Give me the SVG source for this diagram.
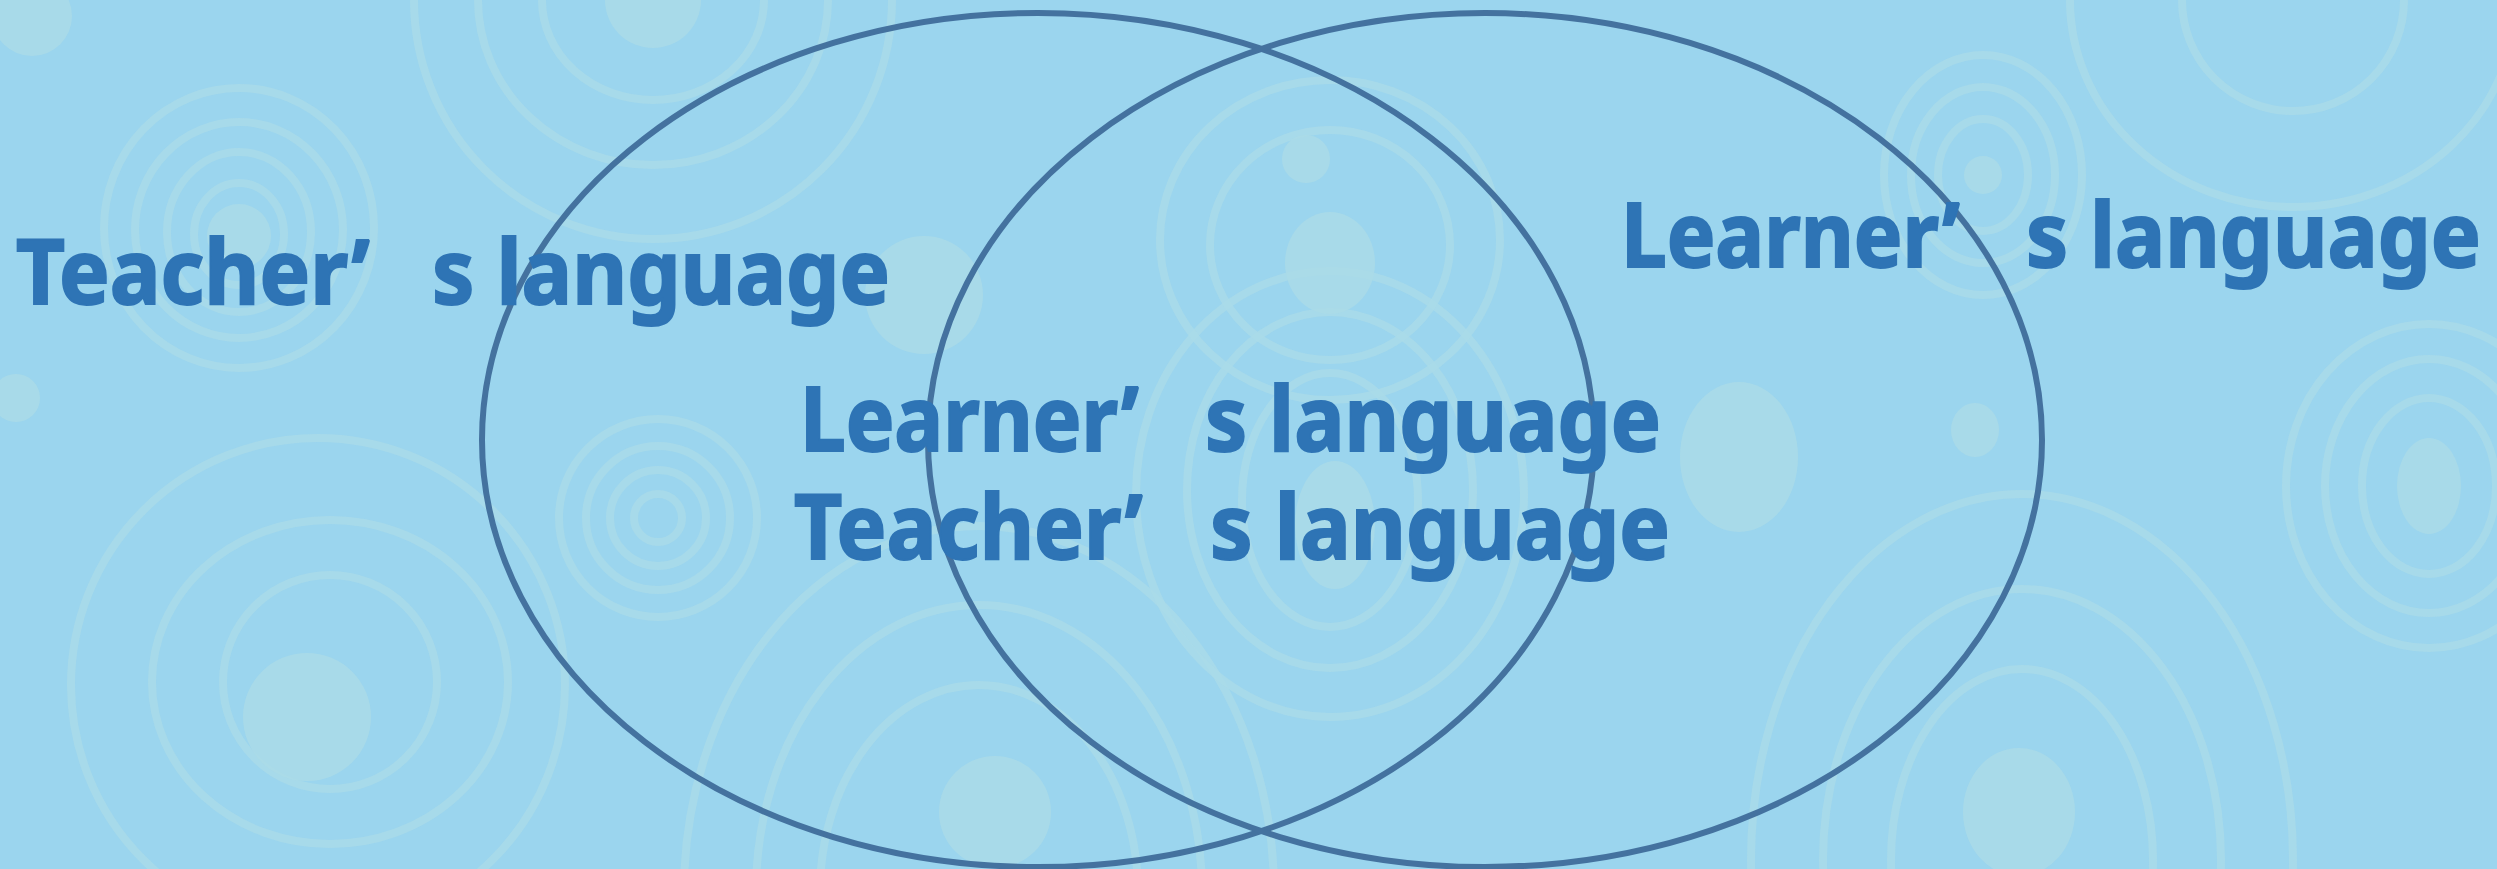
<svg xmlns="http://www.w3.org/2000/svg" width="2497" height="869" viewBox="0 0 2497 869">
  <style>
    .bg { fill: #9bd5ee; }
    .sw { fill: none; stroke: #aadbe8; stroke-width: 8; opacity: 0.8; }
    .sf { fill: #aadbe8; opacity: 0.85; }
    .ring { fill: none; stroke: #44729f; stroke-width: 6; }
    .lbl { font-family: "Noto Sans", "Open Sans", "Liberation Sans", sans-serif; font-weight: 700; font-size: 90px; fill: #2e74b5; stroke: #2e74b5; stroke-width: 2; }
  </style>
  <rect class="bg" x="0" y="0" width="2497" height="869"/>
  <g id="decor">
    <circle class="sf" cx="32" cy="16" r="40"/>
    <circle class="sf" cx="16" cy="398" r="24"/>
    <ellipse class="sw" cx="239" cy="228" rx="135" ry="140"/>
    <ellipse class="sw" cx="239" cy="230" rx="104" ry="108"/>
    <ellipse class="sw" cx="239" cy="232" rx="72" ry="80"/>
    <ellipse class="sw" cx="239" cy="234" rx="45" ry="51"/>
    <circle class="sf" cx="239" cy="236" r="32"/>
    <ellipse class="sw" cx="653" cy="0" rx="239" ry="239"/>
    <ellipse class="sw" cx="653" cy="0" rx="175" ry="165"/>
    <ellipse class="sw" cx="653" cy="0" rx="111" ry="100"/>
    <circle class="sf" cx="653" cy="0" r="48"/>
    <ellipse class="sw" cx="318" cy="685" rx="247" ry="247"/>
    <ellipse class="sw" cx="330" cy="682" rx="178" ry="162"/>
    <ellipse class="sw" cx="330" cy="682" rx="107" ry="107"/>
    <circle class="sf" cx="307" cy="717" r="64"/>
    <circle class="sw" cx="658" cy="518" r="99"/>
    <circle class="sw" cx="658" cy="518" r="72"/>
    <circle class="sw" cx="658" cy="518" r="48"/>
    <circle class="sw" cx="658" cy="518" r="24"/>
    <circle class="sf" cx="924" cy="295" r="59"/>
    <ellipse class="sw" cx="979" cy="892" rx="295" ry="366"/>
    <ellipse class="sw" cx="979" cy="892" rx="223" ry="287"/>
    <ellipse class="sw" cx="979" cy="892" rx="159" ry="207"/>
    <circle class="sf" cx="995" cy="812" r="56"/>
    <ellipse class="sw" cx="1330" cy="494" rx="194" ry="223"/>
    <ellipse class="sw" cx="1330" cy="490" rx="143" ry="178"/>
    <ellipse class="sw" cx="1330" cy="500" rx="88" ry="127"/>
    <ellipse class="sf" cx="1335" cy="525" rx="40" ry="64"/>
    <ellipse class="sw" cx="1330" cy="240" rx="170" ry="160"/>
    <ellipse class="sw" cx="1330" cy="245" rx="120" ry="115"/>
    <ellipse class="sf" cx="1330" cy="263" rx="45" ry="51"/>
    <circle class="sf" cx="1306" cy="159" r="24"/>
    <ellipse class="sf" cx="1739" cy="457" rx="59" ry="75"/>
    <ellipse class="sf" cx="1975" cy="430" rx="24" ry="27"/>
    <ellipse class="sw" cx="1983" cy="175" rx="99" ry="120"/>
    <ellipse class="sw" cx="1983" cy="175" rx="72" ry="88"/>
    <ellipse class="sw" cx="1983" cy="175" rx="45" ry="56"/>
    <circle class="sf" cx="1983" cy="175" r="19"/>
    <ellipse class="sw" cx="2429" cy="486" rx="143" ry="162"/>
    <ellipse class="sw" cx="2429" cy="486" rx="104" ry="127"/>
    <ellipse class="sw" cx="2429" cy="486" rx="67" ry="88"/>
    <ellipse class="sf" cx="2429" cy="486" rx="32" ry="48"/>
    <ellipse class="sw" cx="2022" cy="860" rx="271" ry="366"/>
    <ellipse class="sw" cx="2022" cy="860" rx="199" ry="271"/>
    <ellipse class="sw" cx="2022" cy="860" rx="131" ry="191"/>
    <ellipse class="sf" cx="2019" cy="812" rx="56" ry="64"/>
    <ellipse class="sw" cx="2293" cy="0" rx="223" ry="207"/>
    <ellipse class="sw" cx="2293" cy="0" rx="111" ry="111"/>
  </g>
  <g id="set-teacher">
    <ellipse class="ring" cx="1038" cy="440" rx="556" ry="427"/>
  </g>
  <g id="set-learner">
    <ellipse class="ring" cx="1485" cy="440" rx="557" ry="427"/>
  </g>
  <g id="label-teacher">
    <text class="lbl" y="304"><tspan x="16" textLength="354" lengthAdjust="spacingAndGlyphs">Teacher’</tspan><tspan x="432" textLength="458" lengthAdjust="spacingAndGlyphs">s language</tspan></text>
  </g>
  <g id="label-both">
    <text class="lbl" y="451"><tspan x="800" textLength="339" lengthAdjust="spacingAndGlyphs">Learner’</tspan><tspan x="1205" textLength="456" lengthAdjust="spacingAndGlyphs">s language</tspan></text>
    <text class="lbl" y="559"><tspan x="794" textLength="349" lengthAdjust="spacingAndGlyphs">Teacher’</tspan><tspan x="1210" textLength="460" lengthAdjust="spacingAndGlyphs">s language</tspan></text>
  </g>
  <g id="label-learner">
    <text class="lbl" y="267"><tspan x="1621" textLength="339" lengthAdjust="spacingAndGlyphs">Learner’</tspan><tspan x="2026" textLength="455" lengthAdjust="spacingAndGlyphs">s language</tspan></text>
  </g>
</svg>
